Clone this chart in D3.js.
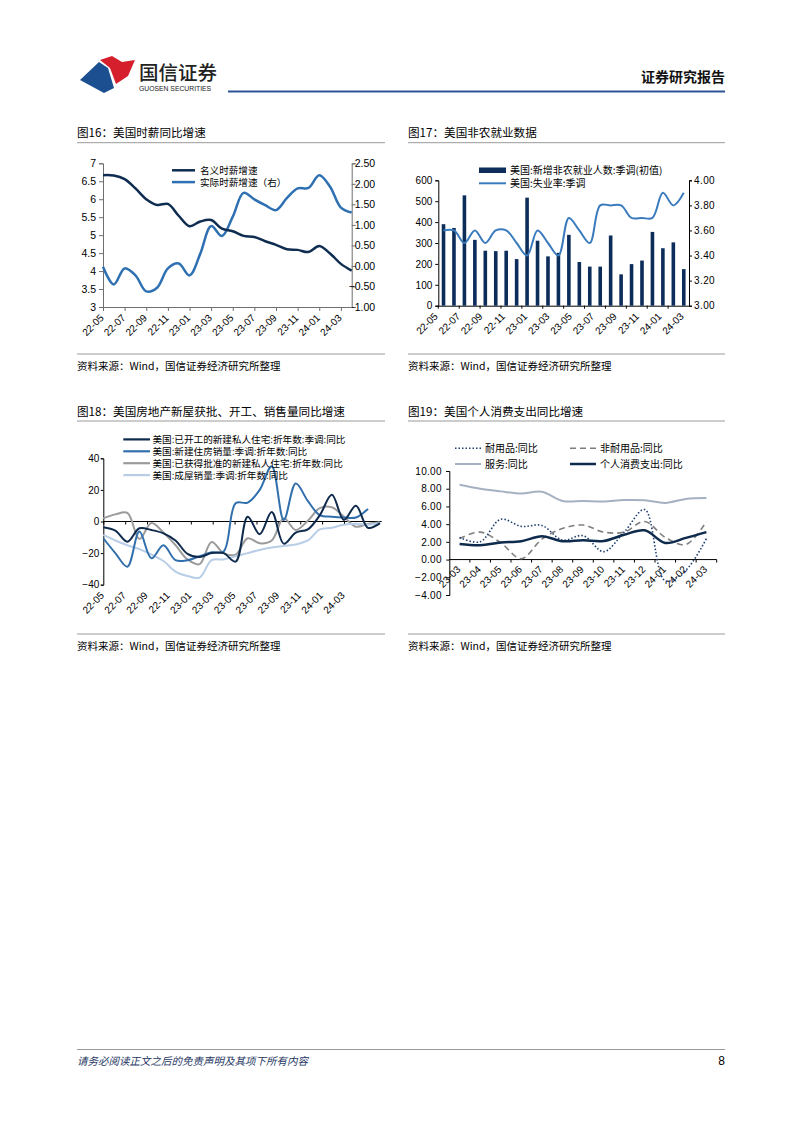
<!DOCTYPE html>
<html><head><meta charset="utf-8">
<script src="https://cdn.jsdelivr.net/npm/d3@7"></script>
<style>
html,body{margin:0;padding:0;background:#fff;}
svg{display:block;}
</style></head><body>
<svg id="page" width="802" height="1133"></svg>
<script>
// ---------------- DATA ----------------
const wageMonths = ["22-05","22-06","22-07","22-08","22-09","22-10","22-11","22-12","23-01","23-02","23-03","23-04","23-05","23-06","23-07","23-08","23-09","23-10","23-11","23-12","24-01","24-02","24-03","24-04"];
const nominalWage = [6.67,6.66,6.56,6.30,6.00,5.84,5.87,5.54,5.25,5.38,5.42,5.18,5.11,4.98,4.95,4.83,4.73,4.61,4.59,4.53,4.70,4.49,4.20,4.01];
const realWage = [-0.02,-0.45,-0.06,-0.23,-0.62,-0.53,-0.06,0.06,-0.23,0.30,0.97,0.73,1.20,1.78,1.62,1.48,1.36,1.65,1.89,1.90,2.21,1.93,1.42,1.30];
const monthTicks = ["22-05","22-07","22-09","22-11","23-01","23-03","23-05","23-07","23-09","23-11","24-01","24-03"];

const nfpMonths = wageMonths;
const nfpAdded = [390,372,528,315,263,261,263,223,517,311,236,253,339,209,187,187,336,150,199,216,353,275,303,175];
const unemployment = [3.6,3.6,3.5,3.6,3.5,3.6,3.6,3.5,3.4,3.6,3.5,3.4,3.7,3.6,3.5,3.8,3.8,3.8,3.7,3.7,3.7,3.9,3.8,3.9];

const houseMonths = wageMonths;
const housingStarts = [-3.7,-5.8,-12.8,-4.3,-5.4,-7.5,-12,-20.5,-22.5,-20,-20,-25.4,3,-8,6,-14,-7,-5,4,17,1,10,-4,-1];
const newHomeSales = [-10.6,-20,-28.6,-6.4,-23.3,-15,-24.5,-24.5,-22,-19.5,-19,11.5,12,20,35,1,24,13,4,3,2.5,2.5,8,null];
const permits = [2,4.5,5.5,-11,-1,-7,-15,-24,-27,-13,-20,-21,-10.6,-13.8,-12,2,-5.4,0.5,8.5,9,3,-3.3,-1.5,-0.5];
const existingSales = [-8.5,-12,-15,-17.5,-21,-25,-31.7,-34.5,-35.5,-24.5,-24,-22,-20,-18,-16.5,-15.5,-14.5,-12,-5,-4,-2,-1.5,-2,-1];

const pceMonths = ["23-03","23-04","23-05","23-06","23-07","23-08","23-09","23-10","23-11","23-12","24-01","24-02","24-03"];
const durables = [2.48,2.0,4.55,3.75,3.85,2.2,2.7,0.9,3.1,5.65,-2.4,-1.2,2.37];
const nondurables = [2.37,3.1,1.9,0.1,2.3,3.5,3.9,3.1,3.1,4.3,2.5,1.7,4.3];
const services = [8.45,8.0,7.7,7.45,7.65,6.62,6.62,6.55,6.72,6.7,6.4,6.85,6.95];
const pceTotal = [1.77,1.62,1.92,2.07,2.63,2.07,2.18,2.1,2.8,3.3,1.88,2.45,3.1];

// ---------------- HELPERS ----------------
const svg = d3.select("#page");
const CJK = '"Noto Sans CJK SC","Noto Sans",sans-serif';
const LAT = '"Liberation Sans",Arial,sans-serif';
function txt(g, x, y, s, o = {}) {
  return g.append("text").attr("x", x).attr("y", y).text(s)
    .attr("font-family", o.ff || CJK).attr("font-size", o.fs || 12)
    .attr("fill", o.fill || "#000").attr("text-anchor", o.anchor || "start")
    .attr("font-weight", o.fw || "normal").attr("font-style", o.fst || "normal");
}
function hline(x1, x2, y, color, w) {
  svg.append("line").attr("x1", x1).attr("x2", x2).attr("y1", y).attr("y2", y)
    .attr("stroke", color).attr("stroke-width", w);
}
function styleAxis(sel, color, fs) {
  sel.select(".domain").attr("stroke", color);
  sel.selectAll(".tick line").attr("stroke", color);
  sel.selectAll(".tick text").attr("font-family", LAT).attr("font-size", fs).attr("fill", "#000");
}
function rotLabel(g, x, y, s) {
  g.append("text").text(s).attr("font-family", LAT).attr("font-size", 10).attr("text-anchor", "end")
    .attr("dy", "0.35em").attr("fill", "#000").attr("transform", `translate(${x - 1},${y}) rotate(-45)`);
}
const curve = d3.curveCatmullRom.alpha(0.5);

// ---------------- HEADER ----------------
svg.append("path").attr("d", "M80,80 L99,62 L108,68 L114,88 L104,93 Z").attr("fill", "#1c4f8f");
svg.append("path").attr("d", "M100,60 L112,56 L122,62 L135,60 L128,76 L116,84 L110,68 Z").attr("fill", "#d51f2d");
txt(svg, 139, 80, "国信证券", {fs: 19.5, fill: "#222", fw: 500});
txt(svg, 139, 91, "GUOSEN SECURITIES", {ff: LAT, fs: 6.8, fill: "#222"});
txt(svg, 725, 82, "证券研究报告", {fs: 14, fw: "bold", anchor: "end", fill: "#111"});
hline(228, 725, 91.5, "#2b5597", 2);

// ---------------- TITLES / SOURCES ----------------
const titles = [
  [77, 137, "图16：美国时薪同比增速"], [408, 137, "图17：美国非农就业数据"],
  [77, 416, "图18：美国房地产新屋获批、开工、销售量同比增速"], [408, 416, "图19：美国个人消费支出同比增速"]];
titles.forEach(t => txt(svg, t[0], t[1], t[2], {fs: 11.6}));
hline(77, 385, 142.7, "#9a9a9a", 1); hline(408, 725, 142.7, "#9a9a9a", 1);
hline(77, 385, 421, "#9a9a9a", 1); hline(408, 725, 421, "#9a9a9a", 1);
hline(77, 385, 354, "#9a9a9a", 1); hline(408, 725, 354, "#9a9a9a", 1);
hline(77, 385, 634, "#9a9a9a", 1); hline(408, 725, 634, "#9a9a9a", 1);
const src = "资料来源：Wind，国信证券经济研究所整理";
txt(svg, 77, 370, src, {fs: 10.5}); txt(svg, 408, 370, src, {fs: 10.5});
txt(svg, 77, 650, src, {fs: 10.5}); txt(svg, 408, 650, src, {fs: 10.5});

// ---------------- FOOTER ----------------
hline(77, 725, 1049.5, "#9a9a9a", 1);
txt(svg, 77, 1064.5, "请务必阅读正文之后的免责声明及其项下所有内容", {fs: 10.5, fst: "italic", fill: "#1f3864"});
txt(svg, 725, 1065, "8", {ff: LAT, fs: 12, anchor: "end", fill: "#000"});

// ---------------- CHART 1 ----------------
(function () {
  const g = svg.append("g");
  const x = d3.scalePoint().domain(wageMonths).range([103, 351.7]);
  const yL = d3.scaleLinear().domain([3, 7]).range([307, 163.3]);
  const yR = d3.scaleLinear().domain([-1, 2.5]).range([307, 163.3]);
  const axC = "#6f6f6f";
  const aL = g.append("g").attr("transform", "translate(103,0)")
    .call(d3.axisLeft(yL).tickValues(d3.range(3, 7.01, 0.5)).tickSize(4).tickPadding(3)
      .tickFormat(d => Number.isInteger(d) ? d : d3.format(".1f")(d)));
  styleAxis(aL, axC, 10.5);
  const aR = g.append("g").attr("transform", "translate(351.7,0)")
    .call(d3.axisRight(yR).tickValues(d3.range(-1, 2.51, 0.5)).tickSize(4).tickPadding(19.5).tickFormat(d3.format(".2f")));
  styleAxis(aR, axC, 10.5);
  aR.selectAll(".tick text").attr("text-anchor", "end");
  const aB = g.append("g").attr("transform", "translate(0,307)")
    .call(d3.axisBottom(x).tickValues(monthTicks).tickSize(4).tickSizeOuter(0).tickFormat(""));
  styleAxis(aB, axC, 10);
  monthTicks.forEach(t => rotLabel(g, x(t), 316, t));
  const lnL = d3.line().x((d, i) => x(wageMonths[i])).y(d => yL(d)).curve(curve);
  const lnR = d3.line().x((d, i) => x(wageMonths[i])).y(d => yR(d)).curve(curve);
  g.append("path").attr("d", lnR(realWage)).attr("fill", "none").attr("stroke", "#2e70b1").attr("stroke-width", 2.5);
  g.append("path").attr("d", lnL(nominalWage)).attr("fill", "none").attr("stroke", "#0f2d50").attr("stroke-width", 2.5);
  const lg = [["名义时薪增速", "#0f2d50"], ["实际时薪增速（右）", "#2e70b1"]];
  lg.forEach((l, i) => {
    const yy = 170.3 + i * 11.8;
    g.append("line").attr("x1", 172).attr("x2", 195).attr("y1", yy).attr("y2", yy).attr("stroke", l[1]).attr("stroke-width", 2.5);
    txt(g, 200, yy + 3.5, l[0], {fs: 9.6});
  });
})();

// ---------------- CHART 2 ----------------
(function () {
  const g = svg.append("g");
  const x = d3.scaleBand().domain(nfpMonths).range([438.3, 689]);
  const xl = d3.scalePoint().domain(monthTicks).range([437, 683]); // label axis
  const yL = d3.scaleLinear().domain([0, 600]).range([305.7, 180.3]);
  const yR = d3.scaleLinear().domain([3, 4]).range([305.7, 180.3]);
  const aL = g.append("g").attr("transform", "translate(438.3,0)")
    .call(d3.axisLeft(yL).tickValues(d3.range(0, 601, 100)).tickSize(3).tickPadding(3));
  styleAxis(aL, "#000", 10);
  const aR = g.append("g").attr("transform", "translate(689,0)")
    .call(d3.axisRight(yR).tickValues(d3.range(3, 4.01, 0.2)).tickSize(3).tickPadding(2).tickFormat(d3.format(".2f")));
  styleAxis(aR, "#000", 10);
  aR.selectAll(".tick text").attr("letter-spacing", "0.4px");
  const aB = g.append("g").attr("transform", "translate(0,305.7)")
    .call(d3.axisBottom(x).tickValues(monthTicks).tickSize(3).tickSizeOuter(0).tickFormat(""));
  aB.selectAll(".tick").attr("transform", d => `translate(${x(d)},0)`);
  styleAxis(aB, "#000", 10);
  monthTicks.forEach(t => rotLabel(g, xl(t), 314.5, t));
  const bw = 3.6;
  g.selectAll("rect.bar").data(nfpAdded).join("rect").attr("class", "bar")
    .attr("x", (d, i) => x(nfpMonths[i]) + x.bandwidth() / 2 - bw / 2).attr("width", bw)
    .attr("y", d => yL(d)).attr("height", d => yL(0) - yL(d)).attr("fill", "#0c2d5a");
  const ln = d3.line().x((d, i) => x(nfpMonths[i]) + x.bandwidth() / 2).y(d => yR(d)).curve(curve);
  g.append("path").attr("d", ln(unemployment)).attr("fill", "none").attr("stroke", "#3a7bbd").attr("stroke-width", 2);
  g.append("rect").attr("x", 479).attr("y", 167.5).attr("width", 27).attr("height", 5.5).attr("fill", "#0c2d5a");
  txt(g, 510, 173.6, "美国:新增非农就业人数:季调(初值)", {fs: 10});
  g.append("line").attr("x1", 479).attr("x2", 506).attr("y1", 183.3).attr("y2", 183.3).attr("stroke", "#3a7bbd").attr("stroke-width", 2);
  txt(g, 510, 186.9, "美国:失业率:季调", {fs: 10});
})();

// ---------------- CHART 3 ----------------
(function () {
  const g = svg.append("g");
  const x = d3.scalePoint().domain(houseMonths).range([103.3, 380]);
  const xl = d3.scalePoint().domain(monthTicks).range([103.3, 344]); // label axis
  const y = d3.scaleLinear().domain([-40, 40]).range([584.7, 458.3]);
  const aL = g.append("g").attr("transform", "translate(103.3,0)")
    .call(d3.axisLeft(y).tickValues([-40, -20, 0, 20, 40]).tickSize(2.5).tickPadding(1.5));
  styleAxis(aL, "#000", 10);
  const aZ = g.append("g").attr("transform", `translate(0,${y(0)})`)
    .call(d3.axisBottom(xl).tickSize(3).tickSizeOuter(0).tickFormat(""));
  aZ.select(".domain").attr("d", `M103.3,0H381.7`).attr("stroke", "#000");
  aZ.selectAll(".tick line").attr("stroke", "#000");
  monthTicks.forEach(t => rotLabel(g, xl(t), y(-40) + 9, t));
  const series = [
    [permits, "#9b9b9b"], [existingSales, "#b8cde6"], [newHomeSales, "#3170ad"], [housingStarts, "#0e2a4c"]];
  series.forEach(s => {
    const ln = d3.line().defined(d => d !== null).x((d, i) => x(houseMonths[i])).y(d => y(d)).curve(curve);
    g.append("path").attr("d", ln(s[0])).attr("fill", "none").attr("stroke", s[1]).attr("stroke-width", 2);
  });
  const lg = [["美国:已开工的新建私人住宅:折年数:季调:同比", "#0e2a4c"], ["美国:新建住房销量:季调:折年数:同比", "#3170ad"],
    ["美国:已获得批准的新建私人住宅:折年数:同比", "#9b9b9b"], ["美国:成屋销量:季调:折年数:同比", "#b8cde6"]];
  lg.forEach((l, i) => {
    const yy = 439.4 + i * 11.9;
    g.append("line").attr("x1", 123.3).attr("x2", 150).attr("y1", yy).attr("y2", yy).attr("stroke", l[1]).attr("stroke-width", 2.2);
    txt(g, 152.5, yy + 3.5, l[0], {fs: 9.6});
  });
})();

// ---------------- CHART 4 ----------------
(function () {
  const g = svg.append("g");
  const x = d3.scaleBand().domain(pceMonths).range([449.3, 716.7]);
  const cx = m => x(m) + x.bandwidth() / 2;
  const y = d3.scaleLinear().domain([-4, 10]).range([595, 471]);
  const aL = g.append("g").attr("transform", "translate(449.3,0)")
    .call(d3.axisLeft(y).tickValues(d3.range(-4, 10.01, 2)).tickSize(3).tickPadding(4.5).tickFormat(d3.format(".2f")));
  styleAxis(aL, "#000", 10);
  aL.selectAll(".tick text").attr("letter-spacing", "0.3px");
  const aZ = g.append("g").attr("transform", `translate(0,${y(0)})`)
    .call(d3.axisBottom(x).tickSize(0).tickFormat(""));
  aZ.select(".domain").attr("d", "M449.3,0H716.7").attr("stroke", "#000");
  pceMonths.forEach(m => {
    g.append("line").attr("x1", x(m) + x.bandwidth()).attr("x2", x(m) + x.bandwidth())
      .attr("y1", y(0)).attr("y2", y(0) + 3).attr("stroke", "#000");
    rotLabel(g, cx(m), y(0) + 8, m);
  });
  const mk = arr => d3.line().x((d, i) => cx(pceMonths[i])).y(d => y(d)).curve(curve)(arr);
  g.append("path").attr("d", mk(services)).attr("fill", "none").attr("stroke", "#a5b1c2").attr("stroke-width", 2);
  g.append("path").attr("d", mk(nondurables)).attr("fill", "none").attr("stroke", "#7f7f7f").attr("stroke-width", 1.6).attr("stroke-dasharray", "6,4");
  g.append("path").attr("d", mk(durables)).attr("fill", "none").attr("stroke", "#1f3f73").attr("stroke-width", 1.6).attr("stroke-dasharray", "1.5,2");
  g.append("path").attr("d", mk(pceTotal)).attr("fill", "none").attr("stroke", "#0e2a4c").attr("stroke-width", 2.5);
  const lg = [
    [455, 448.3, "耐用品:同比", "#1f3f73", 1.6, "1.5,2"], [570, 448.3, "非耐用品:同比", "#7f7f7f", 1.6, "6,4"],
    [455, 464, "服务:同比", "#a5b1c2", 2, null], [570, 464, "个人消费支出:同比", "#0e2a4c", 2.5, null]];
  lg.forEach(l => {
    g.append("line").attr("x1", l[0]).attr("x2", l[0] + 26).attr("y1", l[1]).attr("y2", l[1])
      .attr("stroke", l[3]).attr("stroke-width", l[4]).attr("stroke-dasharray", l[5]);
    txt(g, l[0] + 30, l[1] + 3.6, l[2], {fs: 10});
  });
})();
</script>
</body></html>
